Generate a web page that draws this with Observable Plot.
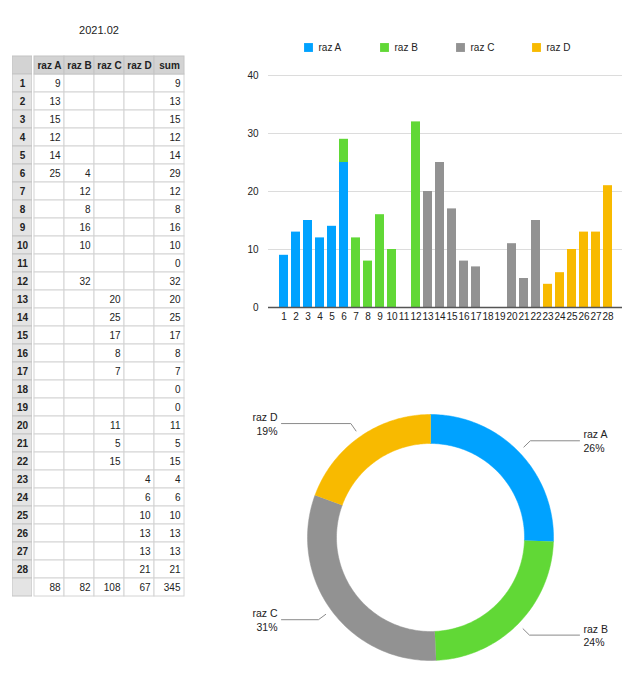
<!DOCTYPE html>
<html>
<head>
<meta charset="utf-8">
<script src="https://cdn.jsdelivr.net/npm/d3@7"></script>
<script src="https://cdn.jsdelivr.net/npm/@observablehq/plot@0.6"></script>
<style>
  body { margin: 0; background: #fff; font-family: "Liberation Sans", Arial, sans-serif; }
  #root { position: relative; width: 640px; height: 675px; overflow: hidden; }
  #root > * { position: absolute; }
  #title { font-size: 11px; color: #222; width: 120px; text-align: center; }
</style>
</head>
<body>
<div id="root"><div id="title">2021.02</div></div>
<script>
// ---- data ----
const title = "2021.02";
const days = [1,2,3,4,5,6,7,8,9,10,11,12,13,14,15,16,17,18,19,20,21,22,23,24,25,26,27,28];
const series = ["raz A", "raz B", "raz C", "raz D"];
const razA = [9,13,15,12,14,25,null,null,null,null,null,null,null,null,null,null,null,null,null,null,null,null,null,null,null,null,null,null];
const razB = [null,null,null,null,null,4,12,8,16,10,null,32,null,null,null,null,null,null,null,null,null,null,null,null,null,null,null,null];
const razC = [null,null,null,null,null,null,null,null,null,null,null,null,20,25,17,8,7,null,null,11,5,15,null,null,null,null,null,null];
const razD = [null,null,null,null,null,null,null,null,null,null,null,null,null,null,null,null,null,null,null,null,null,null,4,6,10,13,13,21];
const yTicks = [0, 10, 20, 30, 40];
const colors = ["#00A2FF", "#61D836", "#929292", "#F8BA00"];

// ---- derived tables ----
const seriesValues = [razA, razB, razC, razD];
const long = [];
days.forEach((d, i) => series.forEach((s, j) => {
  const v = seriesValues[j][i];
  if (v != null) long.push({day: d, series: s, value: v});
}));
const totals = series.map((s, j) => d3.sum(seriesValues[j]));
const grand = d3.sum(totals);

const font = {fontFamily: "Liberation Sans, Arial, sans-serif", fontSize: "10px", background: "transparent"};
const root = document.getElementById("root");
function place(el, left, top) { el.style.left = left + "px"; el.style.top = top + "px"; root.appendChild(el); return el; }
const t = document.getElementById("title"); t.textContent = title; t.style.left = "39px"; t.style.top = "24px";

// ---- table ----
const cols = [...series, "sum"];
const rowKeys = ["head", ...days.map(String), "total"];
const body = [];
days.forEach((d, i) => {
  cols.forEach((c, j) => {
    const v = c === "sum" ? d3.sum(seriesValues.map(a => a[i])) : seriesValues[j][i];
    body.push({row: String(d), col: c, text: v == null ? "" : String(v)});
  });
});
cols.forEach((c, j) => body.push({row: "total", col: c, text: String(j < 4 ? totals[j] : grand)}));
const header = cols.map(c => ({row: "head", col: c, text: c}));

const rowHead = Plot.plot({
  width: 20, height: 568, margin: 0, marginBottom: 1, style: font,
  x: {type: "band", domain: ["n"], padding: 0, axis: null},
  y: {type: "band", domain: rowKeys, padding: 0, axis: null},
  marks: [
    Plot.cell(rowKeys, {x: () => "n", y: d => d, fill: d => d === "head" ? "#d3d3d3" : "#e4e4e4", stroke: "#c4c4c4"}),
    Plot.text(days.map(String), {x: () => "n", y: d => d, text: d => d, fontWeight: "bold", fill: "#222"}),
    Plot.frame({anchor: "right", stroke: "#8f8f8f"})
  ]
});
place(rowHead, 12, 42);

const table = Plot.plot({
  width: 154, height: 568, margin: 0, marginRight: 1, marginBottom: 1, style: font,
  x: {type: "band", domain: cols, padding: 0, axis: null},
  y: {type: "band", domain: rowKeys, padding: 0, axis: null},
  marks: [
    Plot.cell(body, {x: "col", y: "row", fill: "white", stroke: "#d4d4d4"}),
    Plot.cell(header, {x: "col", y: "row", fill: "#d3d3d3", stroke: "#c4c4c4"}),
    Plot.text(header, {x: "col", y: "row", text: "text", fontWeight: "bold", fill: "#222"}),
    Plot.text(body, {x: "col", y: "row", text: "text", textAnchor: "end", dx: 11, fill: "#222"})
  ]
});
place(table, 32, 42);

// ---- legend ----
const legend = Plot.plot({
  width: 304, height: 20, margin: 0, style: font,
  x: {type: "band", domain: series, padding: 0, axis: null},
  y: {domain: [0, 1], axis: null},
  color: {domain: series, range: colors},
  marks: [
    Plot.dot(series, {x: d => d, y: () => 0.5, symbol: "square", r: 5, fill: d => d, stroke: null}),
    Plot.text(series, {x: d => d, y: () => 0.5, text: d => d, textAnchor: "start", dx: 10, fill: "#222"})
  ]
});
place(legend, 270, 37);

// ---- bar chart ----
const bars = Plot.plot({
  width: 400, height: 264, marginLeft: 38, marginRight: 8, marginTop: 10, marginBottom: 22, style: font,
  x: {domain: days, paddingInner: 0.25, paddingOuter: 0.1, label: null, tickSize: 0, tickPadding: 5},
  y: {domain: [0, 40], ticks: yTicks, label: null, tickSize: 0, tickPadding: 10, grid: true},
  color: {domain: series, range: colors},
  marks: [
    Plot.gridY(yTicks, {stroke: "#dcdcdc", strokeOpacity: 1}),
    Plot.barY(long, {x: "day", y: "value", fill: "series", order: series}),
    Plot.ruleY([0], {stroke: "#555", strokeWidth: 1.6}),
    Plot.axisX({tickSize: 0, tickPadding: 5, fill: "#222"}),
    Plot.axisY(yTicks, {tickSize: 0, tickPadding: 10, fill: "#222"})
  ]
});
place(bars, 230, 65);

// ---- donut ----
const k = 123;            // px per radius unit
const rOut = 1, rIn = 94 / 123;
const pie = d3.pie().sort(null).value(d => d.value)(series.map((s, j) => ({series: s, value: totals[j]})));
const rings = pie.map((p, j) => {
  const n = 80, pts = [];
  for (let i = 0; i <= n; i++) { const a = p.startAngle + (p.endAngle - p.startAngle) * i / n; pts.push({x: rOut * Math.sin(a), y: rOut * Math.cos(a)}); }
  for (let i = n; i >= 0; i--) { const a = p.startAngle + (p.endAngle - p.startAngle) * i / n; pts.push({x: rIn * Math.sin(a), y: rIn * Math.cos(a)}); }
  return Plot.line(pts, {x: "x", y: "y", fill: colors[j], stroke: colors[j], strokeWidth: 0.5, curve: "linear"});
});
const leaders = [], labels = [];
pie.forEach((p, j) => {
  const m = (p.startAngle + p.endAngle) / 2;
  const side = Math.sin(m) >= 0 ? 1 : -1;
  const r1 = 130 / k, r2 = 139 / k;
  const y2 = r2 * Math.cos(m);
  leaders.push({g: j, x: r1 * Math.sin(m), y: r1 * Math.cos(m)});
  leaders.push({g: j, x: r2 * Math.sin(m), y: y2});
  leaders.push({g: j, x: side * 149 / k, y: y2});
  labels.push({x: side * 153 / k, y: y2, side, text: series[j] + "\n" + Math.round(p.data.value / grand * 100) + "%"});
});
const donut = Plot.plot({
  width: 400, height: 270, margin: 0, style: {...font, fontSize: "10.5px"},
  x: {domain: [-200 / k, 200 / k], axis: null},
  y: {domain: [-135 / k, 135 / k], axis: null},
  marks: [
    ...rings,
    Plot.line(leaders, {x: "x", y: "y", z: "g", stroke: "#8a8a8a", strokeWidth: 1}),
    Plot.text(labels.filter(d => d.side > 0), {x: "x", y: "y", text: "text", textAnchor: "start", lineHeight: 1.3, fill: "#222"}),
    Plot.text(labels.filter(d => d.side < 0), {x: "x", y: "y", text: "text", textAnchor: "end", lineHeight: 1.3, fill: "#222"})
  ]
});
place(donut, 230, 402);
</script>
</body>
</html>
